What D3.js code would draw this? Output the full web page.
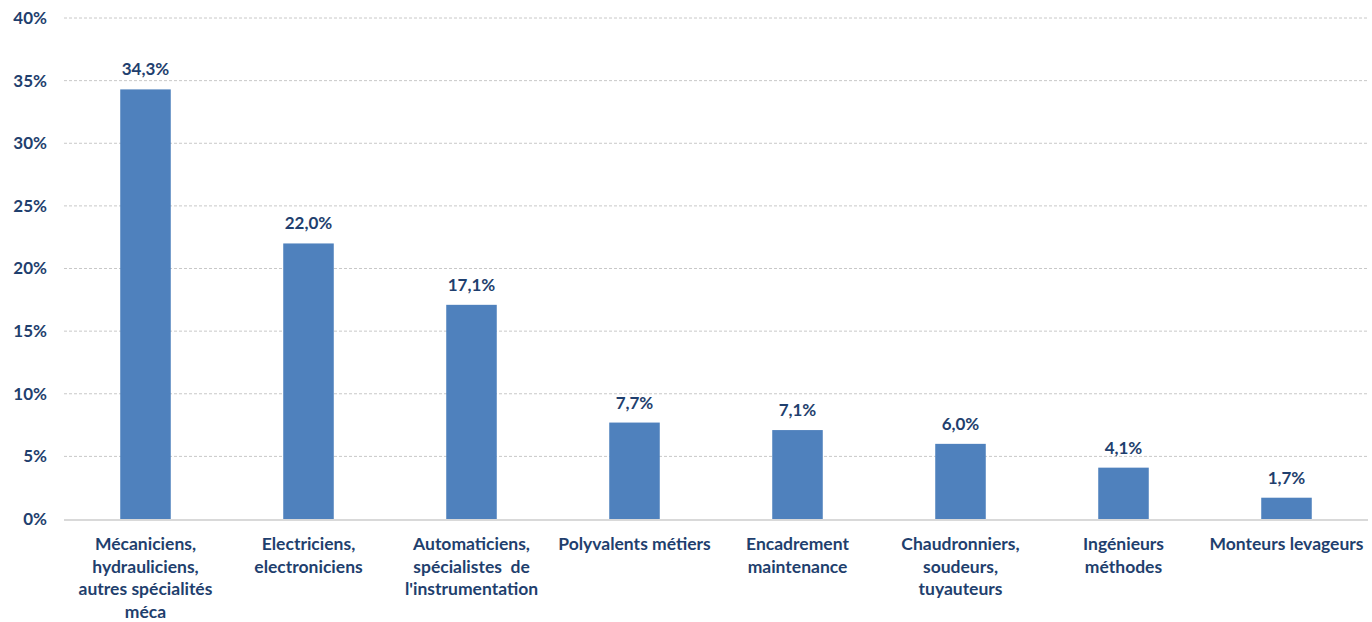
<!DOCTYPE html>
<html>
<head>
<meta charset="utf-8">
<script src="https://cdn.jsdelivr.net/npm/d3@7"></script>
<style>
  body { margin: 0; background: #fff; }
  text { font-family: Lato, "Open Sans", sans-serif; font-weight: bold; fill: #1F3F6E; }
</style>
</head>
<body>
<svg id="svg"></svg>
<script>
// categories, each as its label lines
const categories = [
    ["Mécaniciens,", "hydrauliciens,", "autres spécialités", "méca"],
    ["Electriciens,", "electroniciens"],
    ["Automaticiens,", "spécialistes  de", "l'instrumentation"],
    ["Polyvalents métiers"],
    ["Encadrement", "maintenance"],
    ["Chaudronniers,", "soudeurs,", "tuyauteurs"],
    ["Ingénieurs", "méthodes"],
    ["Monteurs levageurs"]
];
const values = [34.3, 22.0, 17.1, 7.7, 7.1, 6.0, 4.1, 1.7];
const yTicks = [0, 5, 10, 15, 20, 25, 30, 35, 40];

const width = 1372, height = 622;
const margin = {top: 18, right: 4, bottom: 103, left: 64};

const svg = d3.select("#svg")
    .attr("width", width)
    .attr("height", height);

const x = d3.scaleBand()
    .domain(d3.range(categories.length))
    .range([margin.left, width - margin.right])
    .paddingInner(0.69)
    .paddingOuter(0.345);

const y = d3.scaleLinear()
    .domain([0, 40])
    .range([height - margin.bottom, margin.top]);

// gridlines
svg.append("g")
    .selectAll("line")
    .data(yTicks.slice(1))
    .join("line")
    .attr("x1", margin.left)
    .attr("x2", width - margin.right)
    .attr("y1", d => y(d))
    .attr("y2", d => y(d))
    .attr("stroke", "#c8c8c8")
    .attr("stroke-width", 1)
    .attr("stroke-dasharray", "3,2");

// y tick labels
svg.append("g")
    .selectAll("text")
    .data(yTicks)
    .join("text")
    .attr("x", 47)
    .attr("y", d => y(d))
    .attr("dy", "0.35em")
    .attr("text-anchor", "end")
    .style("font-size", "17px")
    .text(d => d + "%");

// bars
svg.append("g")
    .selectAll("rect")
    .data(values)
    .join("rect")
    .attr("x", (d, i) => x(i))
    .attr("y", d => y(d))
    .attr("width", x.bandwidth())
    .attr("height", d => y(0) - y(d))
    .attr("fill", "#4F81BD");

// axis line
svg.append("line")
    .attr("x1", margin.left)
    .attr("x2", width - margin.right)
    .attr("y1", y(0) + 1)
    .attr("y2", y(0) + 1)
    .attr("stroke", "#d9d9d9")
    .attr("stroke-width", 2);

// value labels
svg.append("g")
    .selectAll("text")
    .data(values)
    .join("text")
    .attr("x", (d, i) => x(i) + x.bandwidth() / 2)
    .attr("y", d => y(d) - 14)
    .attr("text-anchor", "middle")
    .style("font-size", "17px")
    .text(d => d.toFixed(1).replace(".", ",") + "%");

// category labels
const cat = svg.append("g")
    .selectAll("text")
    .data(categories)
    .join("text")
    .attr("text-anchor", "middle")
    .style("font-size", "17.5px")
    .attr("transform", (d, i) => "translate(" + (x(i) + x.bandwidth() / 2) + "," + (y(0) + 31) + ")");

cat.selectAll("tspan")
    .data(d => d)
    .join("tspan")
    .attr("x", 0)
    .attr("y", (d, i) => i * 22.5)
    .style("white-space", "pre")
    .text(d => d);
</script>
</body>
</html>
